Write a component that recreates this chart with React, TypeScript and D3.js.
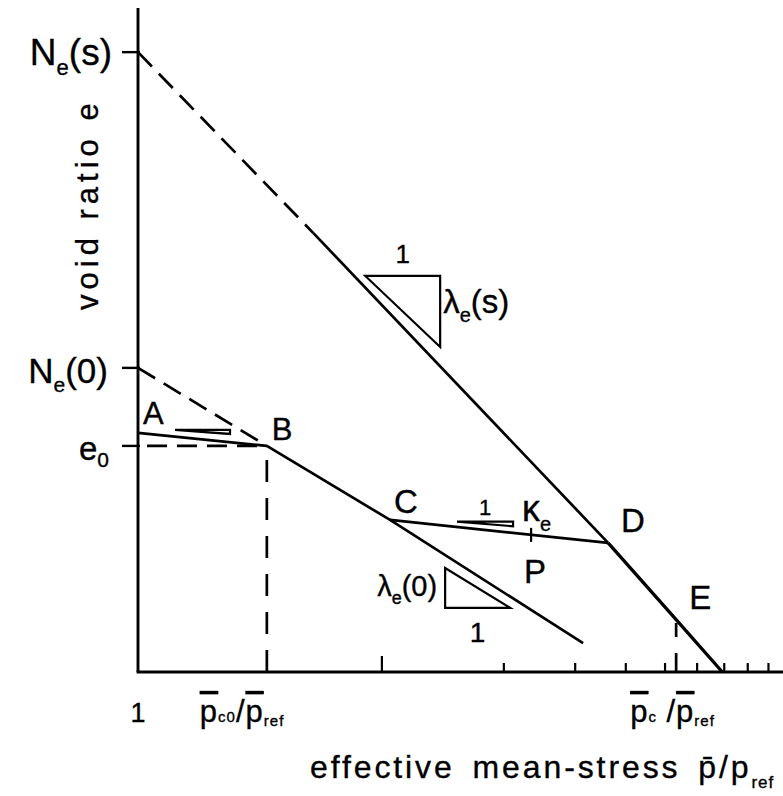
import React from "react";
import * as d3 from "d3";

// ---- data (stress ratio p̄/p_ref on a log axis, void ratio e on a linear axis) ----
type Pt = [number, number];

const P_MAX = 39.1;
const E_MAX = 2.0;

// intercepts on the void-ratio axis
const N_E_S = 1.867; // N_e(s)
const N_E_0 = 0.916; // N_e(0)
const E_0 = 0.681; // e_0

// stress levels marked on the stress axis
const P_C0 = 2.08;
const P_C = 21.3;

// minor ticks on the log stress axis, the first one drawn longer
const stressTicks = [4, 8, 12, 16, 20, 24, 28, 32, 36];
const majorStressTicks = [4];

// states on the loading paths
const ptA: Pt = [1, 0.72];
const ptB: Pt = [P_C0, E_0];
const ptC: Pt = [4.19, 0.458];
const ptD: Pt = [14.47, 0.389];
const ptE: Pt = [P_C, 0.158];
const ptP: Pt = [9.34, 0.413];

// normal compression line of the saturated soil, λ_e(s)
const nclSatDashed: Pt[] = [[1, N_E_S], [2.71, 1.322]];
const nclSatSolid: Pt[] = [[2.71, 1.322], ptD];
const loadingDE: Pt[] = [ptD, ptE, [27.7, 0]];

// normal compression line at zero suction, λ_e(0)
const ncl0Dashed: Pt[] = [[1, N_E_0], ptB];
const ncl0Solid: Pt[] = [ptB, ptC, [12.55, 0.087]];

// unloading / reloading lines, κ_e
const reloadAB: Pt[] = [ptA, ptB];
const reloadCD: Pt[] = [ptC, ptD];

// slope triangles
const triLambdaS: Pt[] = [[3.64, 1.193], [5.57, 1.193], [5.57, 0.979]];
const triLambda0: Pt[] = [[5.73, 0.313], [5.73, 0.193], [8.29, 0.193]];
const triKappa: Pt[] = [[6.13, 0.453], [8.43, 0.453], [8.43, 0.439]];
const triKappaA: Pt[] = [[1.234, 0.729], [1.687, 0.729], [1.687, 0.717]];

const FONT = "'Liberation Sans', Arial, Helvetica, sans-serif";
const INK = "#000";

export default function App() {
  const W = 783;
  const H = 796;
  const x = d3.scaleLog().domain([1, P_MAX]).range([138, 783]);
  const y = d3.scaleLinear().domain([0, E_MAX]).range([672, 8]);
  const line = d3
    .line<Pt>()
    .x((d) => x(d[0]))
    .y((d) => y(d[1]));
  const tri = (pts: Pt[]) => line(pts)! + "Z";

  const x0 = x(1);
  const y0 = y(0);

  const solid = { fill: "none", stroke: INK, strokeWidth: 2.7 } as const;
  const dashed = { ...solid, strokeDasharray: "20 10" } as const;

  return (
    <div style={{ position: "absolute", left: 0, top: 0 }}>
      <svg
        width={W}
        height={H}
        style={{ display: "block", background: "#fff" }}
        fontFamily={FONT}
        stroke="none"
      >
        {/* axes */}
        <line x1={x0} y1={y(E_MAX)} x2={x0} y2={y0} stroke={INK} strokeWidth={2.9} />
        <line x1={x0 - 1.4} y1={y0} x2={x(P_MAX)} y2={y0} stroke={INK} strokeWidth={2.9} />

        {/* stress-axis ticks */}
        {stressTicks.map((t) => (
          <line
            key={t}
            x1={x(t)}
            x2={x(t)}
            y1={y0}
            y2={y0 - (majorStressTicks.includes(t) ? 16 : 9)}
            stroke={INK}
            strokeWidth={2.2}
          />
        ))}

        {/* void-ratio axis ticks */}
        {[N_E_S, N_E_0, E_0].map((v) => (
          <line key={v} x1={x0 - 16} x2={x0 + 2} y1={y(v)} y2={y(v)} stroke={INK} strokeWidth={2.4} />
        ))}

        {/* guide lines */}
        <path d={line([[1, E_0], ptB])!} {...dashed} strokeDashoffset={21} />
        <path d={line([[P_C0, 0], ptB])!} {...solid} strokeDasharray="22 16" />
        <path d={line([[P_C, 0], ptE])!} {...solid} strokeDasharray="19 16 14 40" />

        {/* compression lines */}
        <path d={line(nclSatDashed)!} {...dashed} />
        <path d={line(nclSatSolid)!} {...solid} />
        <path d={line(loadingDE)!} {...solid} strokeWidth={3.3} />
        <path d={line(ncl0Dashed)!} {...dashed} />
        <path d={line(ncl0Solid)!} {...solid} />
        <path d={line(reloadAB)!} {...solid} />
        <path d={line(reloadCD)!} {...solid} />

        {/* tick mark at P */}
        <line x1={x(ptP[0])} x2={x(ptP[0])} y1={y(ptP[1]) - 7} y2={y(ptP[1]) + 7} stroke={INK} strokeWidth={2.2} />

        {/* slope triangles */}
        <path d={tri(triLambdaS)} {...solid} strokeWidth={2.2} />
        <path d={tri(triLambda0)} {...solid} strokeWidth={2.2} />
        <path d={tri(triKappa)} {...solid} strokeWidth={2.2} />
        <path d={tri(triKappaA)} {...solid} strokeWidth={2.2} />

        <g fill={INK} stroke={INK} strokeWidth={0.35}>
          {/* intercept labels */}
          <text x={112} y={y(N_E_S) + 13} textAnchor="end" fontSize={37}>
            N<tspan fontSize={22} dy={10}>e</tspan>
            <tspan dy={-10}>(s)</tspan>
          </text>
          <text x={108} y={y(N_E_0) + 15} textAnchor="end" fontSize={35}>
            N<tspan fontSize={21} dy={9}>e</tspan>
            <tspan dy={-9}>(0)</tspan>
          </text>
          <text x={109} y={y(E_0) + 14} textAnchor="end" fontSize={33}>
            e<tspan fontSize={21} dy={7}>0</tspan>
          </text>

          {/* state labels */}
          <text x={x(ptA[0]) + 5} y={y(ptA[1]) - 9} fontSize={31}>A</text>
          <text x={x(ptB[0]) + 5} y={y(ptB[1]) - 6} fontSize={31}>B</text>
          <text x={x(ptC[0]) + 4} y={y(ptC[1]) - 7} fontSize={33}>C</text>
          <text x={x(ptD[0]) + 13} y={y(ptD[1]) - 11} fontSize={33}>D</text>
          <text x={x(ptE[0]) + 13} y={y(ptE[1]) - 11} fontSize={33}>E</text>
          <text x={x(ptP[0]) - 7} y={y(ptP[1]) + 48} fontSize={33}>P</text>

          {/* slope labels */}
          <text x={(x(triLambdaS[0][0]) + x(triLambdaS[1][0])) / 2} y={y(triLambdaS[0][1]) - 13} textAnchor="middle" fontSize={26}>1</text>
          <text x={x(triLambdaS[1][0]) + 3} y={y(1.08)} fontSize={33}>
            λ<tspan fontSize={20} dy={9}>e</tspan>
            <tspan dy={-9}>(s)</tspan>
          </text>
          <text x={(x(triLambda0[1][0]) + x(triLambda0[2][0])) / 2} y={y(triLambda0[1][1]) + 34} textAnchor="middle" fontSize={28}>1</text>
          <text x={x(triLambda0[0][0]) - 8} y={y(0.228)} textAnchor="end" fontSize={29}>
            λ<tspan fontSize={18} dy={8}>e</tspan>
            <tspan dy={-8}>(0)</tspan>
          </text>
          <text x={(x(triKappa[0][0]) + x(triKappa[1][0])) / 2} y={y(triKappa[0][1]) - 7} textAnchor="middle" fontSize={22}>1</text>
          <text x={x(triKappa[1][0]) + 9} y={y(triKappa[0][1]) - 1} fontSize={36}>
            κ<tspan fontSize={20} dy={10}>e</tspan>
          </text>

          {/* stress-axis labels */}
          <text x={x0} y={722} textAnchor="middle" fontSize={27}>1</text>
          <text x={x(P_C0) - 67} y={722} fontSize={31} letterSpacing={1}>
            <tspan textDecoration="overline">p</tspan>
            <tspan fontSize={15}>c0</tspan>
            <tspan>/</tspan>
            <tspan textDecoration="overline">p</tspan>
            <tspan fontSize={15} dy={4}>ref</tspan>
          </text>
          <text x={x(P_C) - 46} y={722} fontSize={31} letterSpacing={1}>
            <tspan textDecoration="overline">p</tspan>
            <tspan fontSize={15}>c</tspan>
            <tspan> /</tspan>
            <tspan textDecoration="overline">p</tspan>
            <tspan fontSize={15} dy={4}>ref</tspan>
          </text>

          {/* axis titles */}
          <text x={310} y={778} fontSize={32} letterSpacing={2.9} wordSpacing={6}>
            effective mean-stress p̄/p<tspan fontSize={17} dy={10} letterSpacing={1}>ref</tspan>
          </text>
          <text transform="translate(98,310) rotate(-90)" fontSize={31} letterSpacing={5}>
            void ratio e
          </text>
        </g>
      </svg>
    </div>
  );
}
